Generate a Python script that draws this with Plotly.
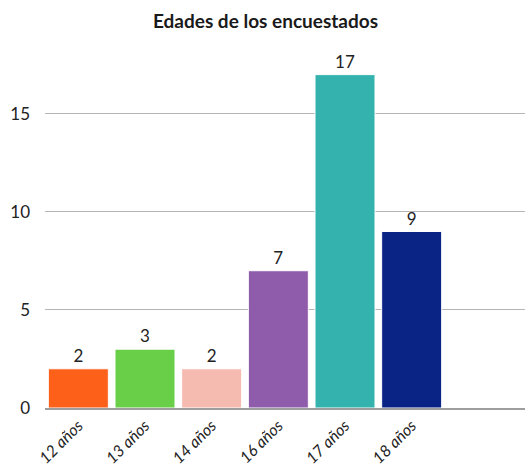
import plotly.graph_objects as go

# Survey respondents by age
categories = ["12 años", "13 años", "14 años", "16 años", "17 años", "18 años"]
counts = [2, 3, 2, 7, 17, 9]
bar_colors = ["#fc6019", "#6acf48", "#f6bbb0", "#8e5cab", "#33b2ae", "#0a2485"]
y_ticks = [0, 5, 10, 15]

fig = go.Figure(
    go.Bar(
        x=categories,
        y=counts,
        marker=dict(color=bar_colors, line=dict(color="white", width=1)),
        text=[str(v) for v in counts],
        textposition="outside",
        cliponaxis=False,
        textfont=dict(family="Lato", size=17, color="#222222"),
    )
)

fig.update_layout(
    width=531,
    height=467,
    margin=dict(l=45, r=6, t=55, b=59),
    paper_bgcolor="white",
    plot_bgcolor="white",
    bargap=0.1,
    showlegend=False,
    title=dict(
        text="<b>Edades de los encuestados</b>",
        x=0.5,
        xanchor="center",
        y=0.955,
        yanchor="middle",
        font=dict(family="Lato", size=19, color="#1a1a1a"),
    ),
    font=dict(family="Lato", color="#222222"),
)

fig.update_xaxes(
    type="category",
    range=[-0.5, 6.7],
    tickangle=-45,
    tickfont=dict(family="Lato", size=16, color="#222222", style="italic"),
    ticklabelstandoff=0,
    showline=True,
    linecolor="#9e9e9e",
    linewidth=2,
    showgrid=False,
    ticks="",
    automargin=False,
)

fig.update_yaxes(
    range=[0, 18],
    tickvals=y_ticks,
    tickfont=dict(family="Lato", size=17, color="#222222"),
    showgrid=True,
    gridcolor="#b5b5b5",
    gridwidth=1,
    zeroline=False,
    ticks="",
    ticklabelstandoff=14,
    automargin=False,
)

fig.write_html("out.html")
